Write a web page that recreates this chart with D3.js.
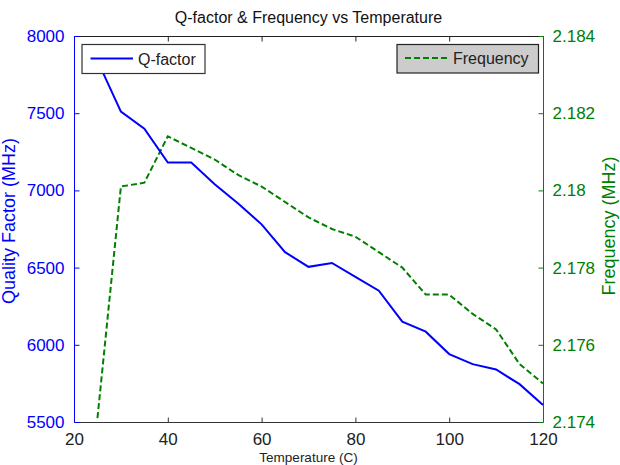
<!DOCTYPE html>
<html>
<head>
<meta charset="utf-8">
<script src="https://cdn.jsdelivr.net/npm/d3@7"></script>
<style>
  html, body { margin: 0; padding: 0; background: #fff; }
  svg { display: block; font-family: "Liberation Sans", Arial, sans-serif; }
</style>
</head>
<body>
<svg id="chart" width="620" height="465"></svg>
<script>
// Measurements taken every 5 °C
const temperature = [25, 30, 35, 40, 45, 50, 55, 60, 65, 70, 75, 80, 85, 90, 95, 100, 105, 110, 115, 120];
const qFactor = [7840, 7510, 7400, 7180, 7180, 7040, 6915, 6780, 6600, 6505, 6530, 6440, 6350, 6150, 6085, 5940, 5875, 5840, 5745, 5610];
const frequency = [2.1741, 2.1801, 2.1802, 2.1814, 2.1811, 2.1808, 2.1804, 2.1801, 2.1797, 2.1793, 2.1790, 2.1788, 2.1784, 2.1780, 2.1773, 2.1773, 2.1768, 2.1764, 2.1755, 2.1750];

const xTicks = [20, 40, 60, 80, 100, 120];
const qTicks = [5500, 6000, 6500, 7000, 7500, 8000];
const fTicks = [2.174, 2.176, 2.178, 2.18, 2.182, 2.184];

const BLUE = "#0000ff";
const GREEN = "#008000";

const svg = d3.select("#chart");
const plotL = 74, plotR = 543, plotT = 36, plotB = 422;

const x = d3.scaleLinear().domain([20, 120]).range([plotL, plotR]);
const yQ = d3.scaleLinear().domain([5500, 8000]).range([plotB, plotT]);
const yF = d3.scaleLinear().domain([2.174, 2.184]).range([plotB, plotT]);

// plot box background
svg.append("rect").attr("x", plotL).attr("y", plotT)
  .attr("width", plotR - plotL).attr("height", plotB - plotT).attr("fill", "#fff");

const tickLen = 5;
const fontTick = "17px";

// bottom axis (ticks point inward)
const xBottom = svg.append("g").attr("transform", `translate(0,${plotB + 0.5})`)
  .call(d3.axisBottom(x).tickValues(xTicks).tickSize(-tickLen).tickPadding(10).tickFormat(d3.format("d")));
xBottom.select(".domain").attr("stroke", "#333").attr("d", `M${plotL},0H${plotR}`);
xBottom.selectAll(".tick line").attr("stroke", "#333");
xBottom.selectAll(".tick text").attr("fill", "#222").style("font-size", fontTick);

// top axis: ticks only
const xTop = svg.append("g").attr("transform", `translate(0,${plotT + 0.5})`)
  .call(d3.axisTop(x).tickValues(xTicks).tickSize(-tickLen).tickFormat(""));
xTop.select(".domain").attr("stroke", "#222").attr("d", `M${plotL},0H${plotR}`);
xTop.selectAll(".tick line").attr("stroke", "#222");

// left axis (Q-factor)
const yLeft = svg.append("g").attr("transform", `translate(${plotL + 0.5},0)`)
  .call(d3.axisLeft(yQ).tickValues(qTicks).tickSize(-tickLen).tickPadding(10).tickFormat(d3.format("d")));
yLeft.select(".domain").attr("stroke", BLUE).attr("d", `M0,${plotT}V${plotB}`);
yLeft.selectAll(".tick line").attr("stroke", BLUE);
yLeft.selectAll(".tick text").attr("fill", BLUE).style("font-size", fontTick);

// right axis (frequency)
const yRight = svg.append("g").attr("transform", `translate(${plotR + 0.5},0)`)
  .call(d3.axisRight(yF).tickValues(fTicks).tickSize(-tickLen).tickPadding(9).tickFormat(d => String(+d.toFixed(3))));
yRight.select(".domain").attr("stroke", GREEN).attr("d", `M0,${plotT}V${plotB}`);
yRight.selectAll(".tick line").attr("stroke", GREEN);
yRight.selectAll(".tick text").attr("fill", GREEN).style("font-size", fontTick);

// series lines
const lineQ = d3.line().x((d, i) => x(temperature[i])).y(d => yQ(d));
const lineF = d3.line().x((d, i) => x(temperature[i])).y(d => yF(d));

svg.append("path").datum(frequency).attr("d", lineF)
  .attr("fill", "none").attr("stroke", GREEN).attr("stroke-width", 2)
  .attr("stroke-dasharray", "6,3");
svg.append("path").datum(qFactor).attr("d", lineQ)
  .attr("fill", "none").attr("stroke", BLUE).attr("stroke-width", 2);

// legends
const legQ = svg.append("g");
legQ.append("rect").attr("x", 82).attr("y", 44.5).attr("width", 123).attr("height", 29)
  .attr("fill", "#fff").attr("stroke", "#333").attr("stroke-width", 1.2);
legQ.append("line").attr("x1", 90.5).attr("x2", 133).attr("y1", 58.5).attr("y2", 58.5)
  .attr("stroke", BLUE).attr("stroke-width", 2);
legQ.append("text").attr("x", 138).attr("y", 59).attr("dy", "0.35em")
  .attr("fill", "#222").style("font-size", "16px").text("Q-factor");

const legF = svg.append("g");
legF.append("rect").attr("x", 397).attr("y", 44.5).attr("width", 141.5).attr("height", 28.5)
  .attr("fill", "#cccccc").attr("stroke", "#222").attr("stroke-width", 1.2);
legF.append("line").attr("x1", 405).attr("x2", 447).attr("y1", 58).attr("y2", 58)
  .attr("stroke", GREEN).attr("stroke-width", 2).attr("stroke-dasharray", "6,3");
legF.append("text").attr("x", 453).attr("y", 58.5).attr("dy", "0.35em")
  .attr("fill", "#222").style("font-size", "16px").text("Frequency");

// title and axis labels
svg.append("text").attr("x", (plotL + plotR) / 2).attr("y", 23)
  .attr("text-anchor", "middle").attr("fill", "#111").style("font-size", "16px")
  .text("Q-factor & Frequency vs Temperature");

svg.append("text").attr("x", (plotL + plotR) / 2).attr("y", 462)
  .attr("text-anchor", "middle").attr("fill", "#222").style("font-size", "13.5px")
  .text("Temperature (C)");

svg.append("text").attr("transform", `translate(15,221) rotate(-90)`)
  .attr("text-anchor", "middle").attr("fill", BLUE).style("font-size", "18px")
  .text("Quality Factor (MHz)");

svg.append("text").attr("transform", `translate(615,226) rotate(-90)`)
  .attr("text-anchor", "middle").attr("fill", GREEN).style("font-size", "18px")
  .text("Frequency (MHz)");
</script>
</body>
</html>
